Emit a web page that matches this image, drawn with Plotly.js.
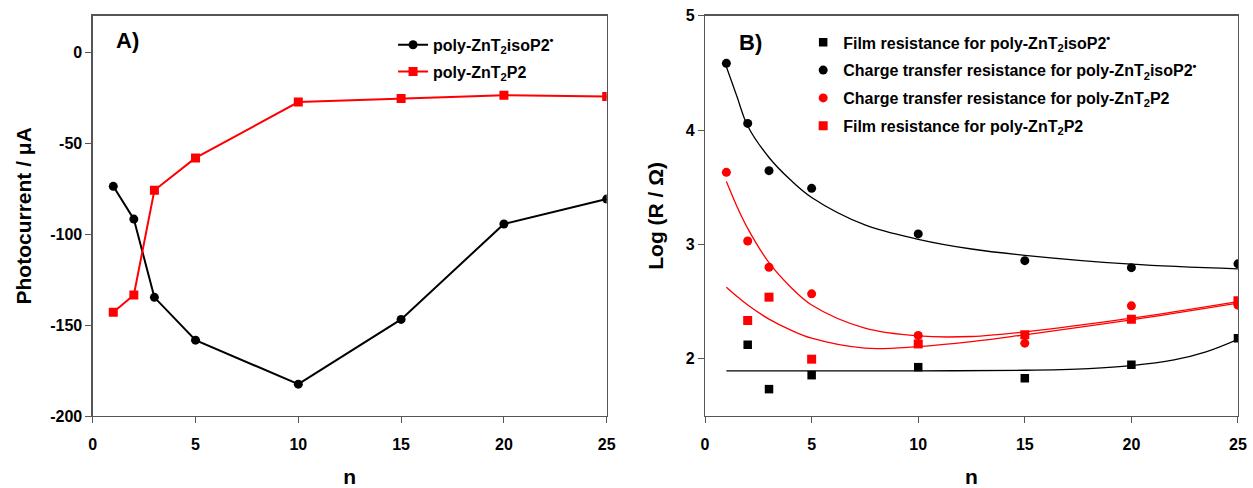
<!DOCTYPE html>
<html>
<head>
<meta charset="utf-8">
<script src="https://cdn.plot.ly/plotly-3.0.1.min.js"></script>
<style>html,body{margin:0;padding:0;background:#fff;}#chart{width:1253px;height:488px;}</style>
</head>
<body>
<div id="chart"></div>
<script>
// ---- Panel A: photocurrent vs n ----
const nA = [1, 2, 3, 5, 10, 15, 20, 25];
const photoIso = [-73.8, -91.8, -134.8, -158.3, -182.5, -146.9, -94.5, -80.8];
const photoP2 = [-143, -133.5, -76, -58.2, -27.5, -25.5, -23.7, -24.4];
const nameIsoA = "poly-ZnT<sub>2</sub>isoP2<sup>•</sup>";
const nameP2A = "poly-ZnT<sub>2</sub>P2";
const yTicksA = [-200, -150, -100, -50, 0];
const yTickTextA = ["-200", "-150", "-100", "-50", "0"];
const xTicks = [0, 5, 10, 15, 20, 25];

// ---- Panel B: log resistance vs n ----
const nB = [1, 2, 3, 5, 10, 15, 20, 25];
const nBsq = [2, 3, 5, 10, 15, 20, 25];
const filmIso = [2.122, 1.735, 1.857, 1.927, 1.831, 1.948, 2.18];
const ctIso = [4.583, 4.058, 3.645, 3.49, 3.092, 2.858, 2.797, 2.83];
const ctP2 = [3.63, 3.03, 2.80, 2.568, 2.204, 2.137, 2.463, 2.469];
const filmP2 = [2.335, 2.539, 1.997, 2.13, 2.21, 2.347, 2.507];
const yTicksB = [2, 3, 4, 5];

// fitted curves
const nFit = [1, 1.5, 2, 3, 4, 5, 7.5, 10, 12.5, 15, 20, 25];
const fitCtIso = [4.553, 4.29, 4.035, 3.76, 3.565, 3.41, 3.17, 3.045, 2.96, 2.905, 2.827, 2.786];
const fitCtP2 = [3.549, 3.33, 3.14, 2.84, 2.63, 2.47, 2.268, 2.20, 2.195, 2.235, 2.355, 2.50];
const fitFilmP2 = [2.626, 2.545, 2.47, 2.347, 2.253, 2.18, 2.093, 2.107, 2.15, 2.21, 2.34, 2.486];
const nFitFilm = [1, 5, 10, 15, 18, 20, 22, 23.5, 25];
const fitFilmIso = [1.895, 1.895, 1.895, 1.90, 1.915, 1.94, 1.99, 2.06, 2.17];

const labB = [
  "Film resistance for poly-ZnT<sub>2</sub>isoP2<sup>•</sup>",
  "Charge transfer resistance for poly-ZnT<sub>2</sub>isoP2<sup>•</sup>",
  "Charge transfer resistance for poly-ZnT<sub>2</sub>P2",
  "Film resistance for poly-ZnT<sub>2</sub>P2"
];

const FONT = "Liberation Sans, Arial, sans-serif";
const AX = "#555555";

const traces = [
  {x: nA, y: photoIso, name: nameIsoA, mode: "lines+markers", xaxis: "x", yaxis: "y",
   line: {color: "#000000", width: 2}, marker: {symbol: "circle", size: 9, color: "#000000"},
   legend: "legend", legendgroup: "a1"},
  {x: nA, y: photoP2, name: nameP2A, mode: "lines+markers", xaxis: "x", yaxis: "y",
   line: {color: "#ff0000", width: 2}, marker: {symbol: "square", size: 9, color: "#ff0000"},
   legend: "legend", legendgroup: "a2"},

  {x: nFit, y: fitCtIso, mode: "lines", line: {color: "#000000", width: 1.3, shape: "spline", smoothing: 1}, xaxis: "x2", yaxis: "y2", showlegend: false, hoverinfo: "skip"},
  {x: nFit, y: fitCtP2, mode: "lines", line: {color: "#ff0000", width: 1.3, shape: "spline", smoothing: 1}, xaxis: "x2", yaxis: "y2", showlegend: false, hoverinfo: "skip"},
  {x: nFit, y: fitFilmP2, mode: "lines", line: {color: "#ff0000", width: 1.3, shape: "spline", smoothing: 1}, xaxis: "x2", yaxis: "y2", showlegend: false, hoverinfo: "skip"},
  {x: nFitFilm, y: fitFilmIso, mode: "lines", line: {color: "#000000", width: 1.3, shape: "spline", smoothing: 1}, xaxis: "x2", yaxis: "y2", showlegend: false, hoverinfo: "skip"},

  {x: nBsq, y: filmIso, name: labB[0], mode: "markers", xaxis: "x2", yaxis: "y2",
   marker: {symbol: "square", size: 8.5, color: "#000000"}, legend: "legend2", legendgroup: "b1"},
  {x: nB, y: ctIso, name: labB[1], mode: "markers", xaxis: "x2", yaxis: "y2",
   marker: {symbol: "circle", size: 9, color: "#000000"}, legend: "legend2", legendgroup: "b2"},
  {x: nB, y: ctP2, name: labB[2], mode: "markers", xaxis: "x2", yaxis: "y2",
   marker: {symbol: "circle", size: 9, color: "#ff0000"}, legend: "legend2", legendgroup: "b3"},
  {x: nBsq, y: filmP2, name: labB[3], mode: "markers", xaxis: "x2", yaxis: "y2",
   marker: {symbol: "square", size: 9, color: "#ff0000"}, legend: "legend2", legendgroup: "b4"}
];

const tickFont = {family: FONT, size: 16, color: "#000", weight: "bold"};
const titleFont = {family: FONT, size: 21, color: "#000", weight: "bold"};
function xax(domain, anchor) {
  return {domain: domain, anchor: anchor, range: [0, 25], tickvals: xTicks,
    showline: true, linecolor: AX, linewidth: 1.3, mirror: true, ticks: "outside", ticklen: 6,
    tickcolor: AX, showgrid: false, zeroline: false, tickfont: tickFont, ticklabelstandoff: 7,
    title: {text: "n", font: titleFont, standoff: 22}};
}
const yDom = [0.1475, 0.968];

const layout = {
  width: 1253, height: 488,
  margin: {l: 0, r: 0, t: 0, b: 0},
  paper_bgcolor: "#fff", plot_bgcolor: "#fff",
  showlegend: true,
  xaxis: xax([0.074, 0.4842], "y"),
  yaxis: {domain: yDom, anchor: "x", range: [-200, 20], tickvals: yTicksA, ticktext: yTickTextA,
    showline: true, linecolor: AX, linewidth: 1.3, mirror: true, ticks: "outside", ticklen: 6,
    tickcolor: AX, showgrid: false, zeroline: false, tickfont: tickFont,
    title: {text: "Photocurrent / μA", font: titleFont, standoff: 12}},
  xaxis2: xax([0.5627, 0.988], "y2"),
  yaxis2: {domain: yDom, anchor: "x2", range: [1.5, 5], tickvals: yTicksB,
    showline: true, linecolor: AX, linewidth: 1.3, mirror: true, ticks: "outside", ticklen: 6,
    tickcolor: AX, showgrid: false, zeroline: false, tickfont: tickFont,
    title: {text: "Log (R / Ω)", font: titleFont, standoff: 16}},
  legend: {x: 0.3137, y: 0.943, xanchor: "left", yanchor: "top", bgcolor: "rgba(0,0,0,0)",
    font: {family: FONT, size: 16, color: "#000", weight: "bold"}, itemwidth: 30,
    traceorder: "grouped", tracegroupgap: 3},
  legend2: {x: 0.641, y: 0.948, xanchor: "left", yanchor: "top", bgcolor: "rgba(0,0,0,0)",
    font: {family: FONT, size: 16, color: "#000", weight: "bold"},
    traceorder: "grouped", tracegroupgap: 4},
  annotations: [
    {text: "A)", xref: "paper", yref: "paper", x: 0.091, y: 0.918, xanchor: "left", yanchor: "middle",
     showarrow: false, font: {family: FONT, size: 22, color: "#000", weight: "bold"}},
    {text: "B)", xref: "paper", yref: "paper", x: 0.588, y: 0.912, xanchor: "left", yanchor: "middle",
     showarrow: false, font: {family: FONT, size: 22, color: "#000", weight: "bold"}}
  ]
};

Plotly.newPlot("chart", traces, layout, {displayModeBar: false, staticPlot: true});
</script>
</body>
</html>
